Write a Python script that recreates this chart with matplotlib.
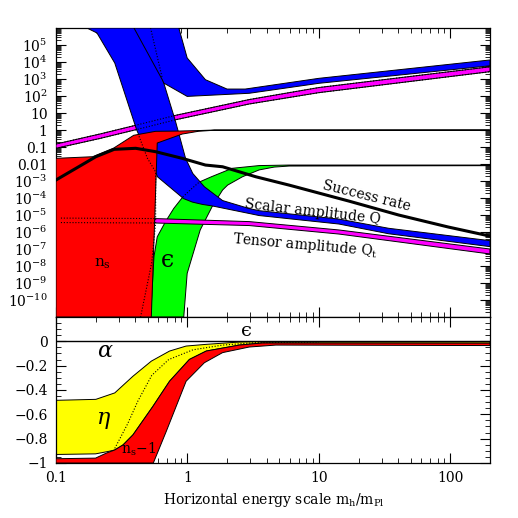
import numpy as np
import matplotlib
matplotlib.use('Agg')
import matplotlib.pyplot as plt
from matplotlib.ticker import FixedLocator, FixedFormatter, LogLocator, MultipleLocator, NullFormatter

plt.rcParams['font.family'] = 'DejaVu Serif'
plt.rcParams['mathtext.fontset'] = 'dejavuserif'

# ---------------- upper panel ----------------
# upper blue branch
hi_left_x = [0.392, 0.643]
hi_left_y = [1e6, 912]
hi_low_x = [0.661, 0.995, 2.95, 10, 200]
hi_low_y = [575, 95, 145, 560, 6000]
hi_up_x = [0.86, 0.995, 1.37, 2.0, 2.75, 10, 200]
hi_up_y = [1e6, 17400, 912, 257, 257, 1100, 13200]
hi_mid_x = [0.524, 0.643]
hi_mid_y = [1e6, 1150]

# scalar amplitude Q band
q_lo_x = [0.172, 0.205, 0.28, 0.411, 0.593, 0.933, 1.09, 1.30, 1.55, 2.95, 3.51, 14.2, 33.9, 200]
q_lo_y = [1e6, 5.1e5, 8700, 1.0, 1.74e-3, 9.3e-5, 5.75e-5, 4.2e-5, 3.4e-5, 1.23e-5, 9.3e-6, 2.95e-6, 7.9e-7, 1.38e-7]
q_hi_x = [0.515, 0.661, 0.811, 0.966, 1.097, 1.345, 1.85, 2.95, 3.51, 14.2, 33.9, 200]
q_hi_y = [1e6, 575, 3.24, 0.0224, 2.8e-3, 4.6e-4, 7.1e-5, 2.4e-5, 1.8e-5, 5.75e-6, 1.66e-6, 3.1e-7]

# rising magenta band
mag_x = [0.1, 0.215, 0.411, 0.811, 2.95, 10, 200]
mag_up = [0.15, 0.58, 1.97, 7.3, 62, 316, 5250]
mag_lo = [0.084, 0.316, 1.07, 4.0, 34, 158, 2700]

# tensor amplitude Q_t band
qt_x = [0.56, 2.95, 14.2, 200]
qt_up = [6.2e-6, 4.1e-6, 1.32e-6, 1.0e-7]
qt_lo = [3.4e-6, 2.4e-6, 7.6e-7, 5.1e-8]
qt_dot_x = [0.109, 0.56]
qt_dot_up = [6.6e-6, 6.2e-6]
qt_dot_lo = [3.6e-6, 3.4e-6]

# n_s region (red)
ns_top_x = [0.1, 0.19, 0.275, 0.39, 0.573, 0.855, 1.21, 1.6, 200]
ns_top_y = [0.0216, 0.0269, 0.087, 0.49, 0.84, 0.87, 0.93, 1.0, 1.0]
ns_sliver_x = [200, 1.6, 1.21, 0.912]
ns_sliver_y = [0.985, 0.97, 0.84, 0.58]
ns_edge_x = [0.589, 0.562, 0.531, 0.1]
ns_edge_y = [0.172, 3.4e-6, 1e-11, 1e-11]
ns_mid_x = [0.428, 0.495, 0.573, 0.573, 0.534, 0.44]
ns_mid_y = [0.43, 0.0224, 3.4e-3, 3.4e-6, 1.5e-8, 1e-11]

# epsilon region (green)
eps_l_x = [0.525, 0.556, 0.589, 0.681, 0.787, 0.921, 1.07, 1.23, 1.52, 2.19, 3.51, 5.93, 200]
eps_l_y = [1e-11, 3.5e-8, 5.2e-7, 4.1e-6, 2.45e-5, 1.15e-4, 3.4e-4, 8.7e-4, 1.78e-3, 5.6e-3, 8.1e-3, 8.7e-3, 8.7e-3]
eps_r_x = [0.937, 0.995, 1.25, 1.54, 1.85, 2.02, 2.62, 3.51, 4.56, 5.93, 200]
eps_r_y = [1e-11, 3.7e-9, 1.32e-6, 3.1e-5, 2.95e-4, 5.75e-4, 1.78e-3, 4.5e-3, 6.6e-3, 7.6e-3, 8.0e-3]
eps_dot_x = [0.921, 1.07, 1.23]
eps_dot_y = [1.15e-4, 3.4e-4, 8.7e-4]

# success rate
succ_x = [0.1, 0.142, 0.201, 0.277, 0.404, 0.573, 0.912, 1.37, 1.85, 3.31, 5.93, 16.9, 40.4, 96.6, 200]
succ_y = [1.15e-3, 5.6e-3, 0.0269, 0.073, 0.084, 0.053, 0.0216, 8.7e-3, 6.9e-3, 1.78e-3, 5.75e-4, 6.6e-5, 1e-5, 1.96e-6, 5.75e-7]

top_tick_vals = [1e5, 1e4, 1e3, 1e2, 10, 1, 0.1, 0.01, 1e-3, 1e-4, 1e-5, 1e-6, 1e-7, 1e-8, 1e-9, 1e-10]
top_tick_labels = [r'$10^{5}$', r'$10^{4}$', r'$10^{3}$', r'$10^{2}$', '10', '1', '0.1', '0.01',
                   r'$10^{-3}$', r'$10^{-4}$', r'$10^{-5}$', r'$10^{-6}$', r'$10^{-7}$',
                   r'$10^{-8}$', r'$10^{-9}$', r'$10^{-10}$']

# ---------------- lower panel ----------------
eta_up_x = [0.1, 0.201, 0.28, 0.385, 0.531, 0.731, 0.977, 1.39, 2.48, 3.3, 200]
eta_up_y = [-0.485, -0.477, -0.424, -0.287, -0.163, -0.080, -0.039, -0.025, -0.006, -0.003, -0.002]
eta_lo_x = [0.1, 0.2, 0.25, 0.28, 0.324, 0.385, 0.546, 0.731, 1.035, 1.39, 2.48, 3.7, 200]
eta_lo_y = [-0.93, -0.925, -0.905, -0.893, -0.851, -0.769, -0.535, -0.328, -0.149, -0.080, -0.031, -0.014, -0.015]
eta_mid_x = [0.28, 0.35, 0.42, 0.535, 0.72, 1.1, 1.85, 3.3, 10]
eta_mid_y = [-0.88, -0.68, -0.49, -0.28, -0.15, -0.07, -0.031, -0.011, -0.006]

ns1_up_x = [0.1, 0.2, 0.24, 0.28, 0.324, 0.385, 0.546, 0.731, 1.035, 1.39, 2.48, 3.7, 200]
ns1_up_y = [-0.965, -0.96, -0.92, -0.893, -0.851, -0.769, -0.535, -0.328, -0.149, -0.080, -0.031, -0.014, -0.015]
ns1_lo_x = [0.1, 0.55, 0.69, 0.977, 1.345, 1.85, 2.95, 4.7, 200]
ns1_lo_y = [-1.0, -1.0, -0.74, -0.328, -0.176, -0.093, -0.047, -0.031, -0.035]

bot_tick_vals = [-1, -0.8, -0.6, -0.4, -0.2, 0]
bot_tick_labels = ['\u22121', '\u22120.8', '\u22120.6', '\u22120.4', '\u22120.2', '0']
x_tick_vals = [0.1, 1, 10, 100]
x_tick_labels = ['0.1', '1', '10', '100']

fig = plt.figure(figsize=(5.18, 5.18), dpi=100)
ax1 = fig.add_axes([0.1081, 0.3880, 0.8378, 0.5579])
ax2 = fig.add_axes([0.1081, 0.1062, 0.8378, 0.2819])

edge = dict(edgecolor='black', linewidth=0.7)
dot = dict(color='black', linestyle=(0, (1, 1.6)), linewidth=0.8)

# green epsilon
ax1.fill(eps_l_x + eps_r_x[::-1], eps_l_y + eps_r_y[::-1], facecolor='#00ff00', zorder=2, **edge)
# magenta bands
ax1.fill(mag_x + mag_x[::-1], mag_up + mag_lo[::-1], facecolor='#ff00ff', zorder=3, **edge)
ax1.fill(qt_x + qt_x[::-1], qt_up + qt_lo[::-1], facecolor='#ff00ff', zorder=3, **edge)
# blue bands: Q band first, the upper branch on top of it
ax1.fill(q_lo_x + q_hi_x[::-1], q_lo_y + q_hi_y[::-1], facecolor='#0000ff', zorder=4, **edge)
ax1.fill(hi_left_x + hi_low_x + hi_up_x[::-1], hi_left_y + hi_low_y + hi_up_y[::-1],
         facecolor='#0000ff', zorder=4.5, **edge)
# red n_s
ax1.fill(ns_top_x + ns_sliver_x + ns_edge_x, ns_top_y + ns_sliver_y + ns_edge_y,
         facecolor='#ff0000', zorder=5, **edge)

# dotted continuations
ax1.plot(mag_x, mag_up, zorder=6, **dot)
ax1.plot(mag_x, mag_lo, zorder=6, **dot)
ax1.plot(qt_dot_x, qt_dot_up, zorder=6, **dot)
ax1.plot(qt_dot_x, qt_dot_lo, zorder=6, **dot)
ax1.plot(ns_mid_x, ns_mid_y, zorder=6, **dot)
ax1.plot(hi_mid_x, hi_mid_y, zorder=6, **dot)
ax1.plot(eps_dot_x, eps_dot_y, zorder=6, **dot)

ax1.plot(succ_x, succ_y, color='black', linewidth=2.2, zorder=7)

ax1.text(23.1, 1.3e-4, 'Success rate', rotation=-14, ha='center', va='center',
         rotation_mode='anchor', fontsize=10, zorder=8)
ax1.text(9.0, 1.5e-5, 'Scalar amplitude Q', rotation=-6.5, ha='center', va='center',
         rotation_mode='anchor', fontsize=10, zorder=8)
ax1.text(7.8, 1.7e-7, r'Tensor amplitude Q$_{\rm t}$', rotation=-5, ha='center', va='center',
         rotation_mode='anchor', fontsize=10, zorder=8)
ax1.text(0.227, 1.3e-8, r'n$_{\rm s}$', ha='center', va='center', fontsize=11, zorder=8)
ax1.text(0.705, 2e-8, '\u03f5', ha='center', va='center', fontsize=17, zorder=8)

ax1.set_xscale('log')
ax1.set_yscale('log')
ax1.set_xlim(0.1, 200)
ax1.set_ylim(1e-11, 1e6)
ax1.yaxis.set_major_locator(FixedLocator(top_tick_vals))
ax1.yaxis.set_major_formatter(FixedFormatter(top_tick_labels))
ax1.yaxis.set_minor_locator(LogLocator(base=10, subs=np.arange(2, 10), numticks=100))
ax1.yaxis.set_minor_formatter(NullFormatter())

# lower panel
ax2.fill(eta_up_x + eta_lo_x[::-1], eta_up_y + eta_lo_y[::-1], facecolor='#ffff00', zorder=2, **edge)
ax2.fill(ns1_up_x + ns1_lo_x[::-1], ns1_up_y + ns1_lo_y[::-1], facecolor='#ff0000', zorder=3, **edge)
ax2.plot(eta_mid_x, eta_mid_y, zorder=4, **dot)
ax2.axhline(0, color='black', linewidth=1.0, zorder=5)

ax2.text(0.239, -0.08, r'$\alpha$', ha='center', va='center', fontsize=16, zorder=8)
ax2.text(0.231, -0.65, r'$\eta$', ha='center', va='center', fontsize=16, zorder=8)
ax2.text(2.8, 0.083, '\u03f5', ha='center', va='center', fontsize=14, zorder=8)
ax2.text(0.425, -0.89, r'n$_{\rm s}$$-$1', ha='center', va='center', fontsize=10, zorder=8)

ax2.set_xscale('log')
ax2.set_xlim(0.1, 200)
ax2.set_ylim(-1, 0.2)
ax2.yaxis.set_major_locator(FixedLocator(bot_tick_vals))
ax2.yaxis.set_major_formatter(FixedFormatter(bot_tick_labels))
ax2.yaxis.set_minor_locator(MultipleLocator(0.05))

for ax in (ax1, ax2):
    ax.xaxis.set_major_locator(FixedLocator(x_tick_vals))
    ax.xaxis.set_major_formatter(FixedFormatter(x_tick_labels))
    ax.xaxis.set_minor_locator(LogLocator(base=10, subs=np.arange(2, 10), numticks=100))
    ax.xaxis.set_minor_formatter(NullFormatter())
    ax.tick_params(which='both', direction='in', top=True, right=True, labelsize=10, pad=6)
    ax.tick_params(which='major', length=7, width=0.8)
    ax.tick_params(which='minor', length=3.5, width=0.6)
    for s in ax.spines.values():
        s.set_linewidth(0.9)
ax1.tick_params(labelbottom=False)

fig.text(0.528, 0.035, r'Horizontal energy scale m$_{\rm h}$/m$_{\rm Pl}$', ha='center', va='center',
         fontsize=10)

fig.savefig('out.png', dpi=100)
